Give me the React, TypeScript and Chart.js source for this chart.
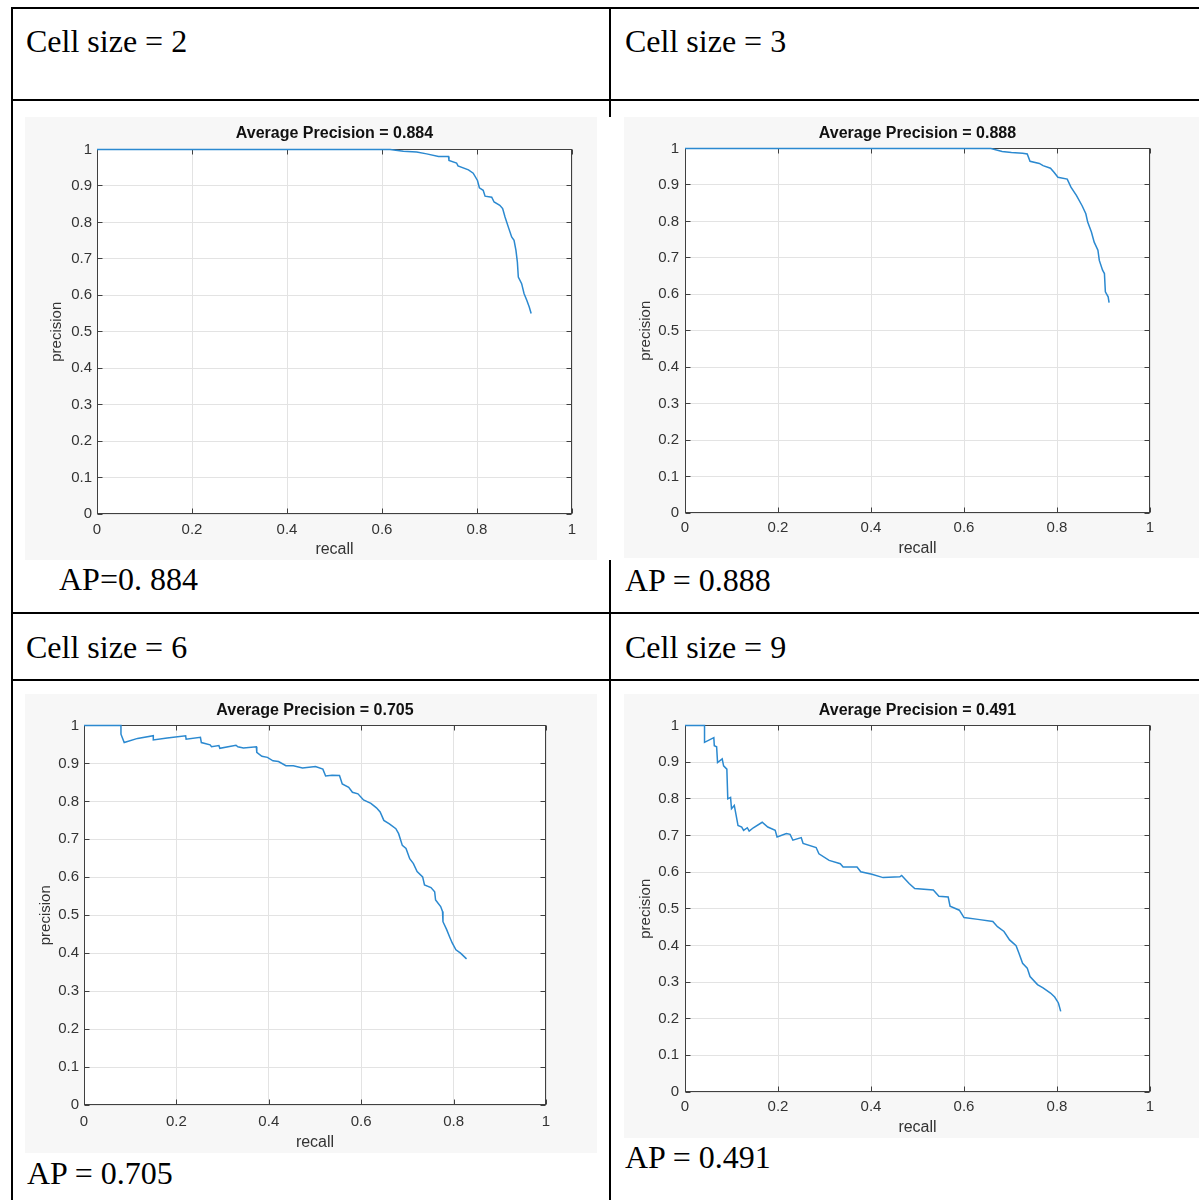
import React, { useEffect, useRef } from 'react';
import { Chart, registerables } from 'chart.js';

Chart.register(...registerables);

// ---------- data ----------
const xTickValues = [0, 0.2, 0.4, 0.6, 0.8, 1];
const yTickValues = [0, 0.1, 0.2, 0.3, 0.4, 0.5, 0.6, 0.7, 0.8, 0.9, 1];

const cellLabels = ['Cell size = 2', 'Cell size = 3', 'Cell size = 6', 'Cell size = 9'];
const apLabels = ['AP=0. 884', 'AP = 0.888', 'AP = 0.705', 'AP = 0.491'];
const chartTitles = [
  'Average Precision = 0.884',
  'Average Precision = 0.888',
  'Average Precision = 0.705',
  'Average Precision = 0.491',
];

const recall2 = [0, 0.617, 0.645, 0.673, 0.694, 0.719, 0.74, 0.741, 0.757, 0.76, 0.782, 0.792, 0.801, 0.805, 0.813, 0.817, 0.831, 0.836, 0.848, 0.854, 0.859, 0.866, 0.873, 0.878, 0.882, 0.885, 0.887, 0.894, 0.899, 0.905, 0.91, 0.914];
const precision2 = [1, 1, 0.995, 0.993, 0.988, 0.981, 0.981, 0.97, 0.963, 0.955, 0.944, 0.935, 0.915, 0.895, 0.888, 0.872, 0.869, 0.856, 0.847, 0.838, 0.815, 0.787, 0.76, 0.751, 0.723, 0.691, 0.65, 0.632, 0.605, 0.586, 0.568, 0.55];

const recall3 = [0, 0.658, 0.682, 0.702, 0.726, 0.736, 0.742, 0.762, 0.77, 0.786, 0.794, 0.802, 0.822, 0.83, 0.842, 0.854, 0.862, 0.866, 0.874, 0.88, 0.888, 0.891, 0.898, 0.902, 0.904, 0.91, 0.912];
const precision3 = [1, 1, 0.992, 0.989, 0.987, 0.985, 0.965, 0.959, 0.953, 0.946, 0.934, 0.921, 0.916, 0.894, 0.871, 0.843, 0.821, 0.798, 0.771, 0.743, 0.721, 0.693, 0.666, 0.657, 0.607, 0.593, 0.577];

const recall6 = [0, 0.08, 0.08, 0.087, 0.116, 0.15, 0.15, 0.18, 0.22, 0.221, 0.252, 0.254, 0.273, 0.276, 0.292, 0.294, 0.329, 0.333, 0.345, 0.373, 0.374, 0.385, 0.397, 0.409, 0.421, 0.437, 0.453, 0.473, 0.501, 0.517, 0.523, 0.537, 0.553, 0.559, 0.573, 0.581, 0.593, 0.605, 0.621, 0.633, 0.641, 0.649, 0.661, 0.675, 0.681, 0.689, 0.697, 0.705, 0.713, 0.721, 0.733, 0.737, 0.751, 0.759, 0.761, 0.772, 0.776, 0.777, 0.785, 0.791, 0.797, 0.805, 0.815, 0.828];
const precision6 = [1, 1, 0.977, 0.955, 0.966, 0.973, 0.962, 0.967, 0.973, 0.964, 0.969, 0.955, 0.949, 0.944, 0.947, 0.94, 0.948, 0.944, 0.941, 0.944, 0.929, 0.919, 0.916, 0.907, 0.905, 0.894, 0.894, 0.888, 0.892, 0.885, 0.867, 0.869, 0.868, 0.846, 0.837, 0.824, 0.82, 0.804, 0.795, 0.783, 0.772, 0.75, 0.741, 0.728, 0.715, 0.684, 0.676, 0.649, 0.636, 0.615, 0.601, 0.58, 0.573, 0.562, 0.54, 0.523, 0.51, 0.483, 0.462, 0.444, 0.427, 0.409, 0.4, 0.385];

const recall9 = [0, 0.042, 0.042, 0.062, 0.063, 0.068, 0.07, 0.08, 0.083, 0.09, 0.092, 0.098, 0.1, 0.106, 0.11, 0.114, 0.122, 0.126, 0.134, 0.138, 0.147, 0.166, 0.178, 0.194, 0.198, 0.218, 0.226, 0.232, 0.25, 0.254, 0.282, 0.288, 0.31, 0.334, 0.34, 0.37, 0.378, 0.402, 0.426, 0.462, 0.466, 0.482, 0.494, 0.534, 0.546, 0.566, 0.57, 0.59, 0.6, 0.63, 0.662, 0.672, 0.686, 0.698, 0.712, 0.718, 0.726, 0.736, 0.742, 0.758, 0.77, 0.786, 0.795, 0.803, 0.808];
const precision9 = [1, 1, 0.954, 0.967, 0.945, 0.942, 0.899, 0.909, 0.89, 0.881, 0.8, 0.804, 0.773, 0.782, 0.755, 0.727, 0.723, 0.714, 0.721, 0.712, 0.721, 0.736, 0.723, 0.714, 0.696, 0.705, 0.703, 0.687, 0.694, 0.678, 0.667, 0.65, 0.632, 0.623, 0.614, 0.614, 0.601, 0.594, 0.585, 0.587, 0.591, 0.569, 0.555, 0.551, 0.534, 0.532, 0.507, 0.496, 0.476, 0.471, 0.465, 0.451, 0.438, 0.415, 0.399, 0.379, 0.351, 0.338, 0.315, 0.293, 0.284, 0.27, 0.259, 0.243, 0.22];

// ---------- layout ----------
type Geo = {
  left: number; top: number; width: number; height: number;
  plotLeft: number; plotRight: number; plotTop: number; plotBottom: number;
  titleY: number; xTitleY: number; yTitleX: number; xTickY: number; yTickRight: number;
};

const geos: Geo[] = [
  { left: 25, top: 117, width: 572, height: 443, plotLeft: 97, plotRight: 572, plotTop: 149.5, plotBottom: 514, titleY: 134, xTitleY: 549.5, yTitleX: 57, xTickY: 529.5, yTickRight: 92 },
  { left: 624, top: 117, width: 575, height: 441, plotLeft: 685, plotRight: 1150, plotTop: 148.5, plotBottom: 513, titleY: 133.5, xTitleY: 549, yTitleX: 646, xTickY: 528, yTickRight: 679 },
  { left: 25, top: 694, width: 572, height: 459, plotLeft: 84, plotRight: 546, plotTop: 725.5, plotBottom: 1105, titleY: 710.5, xTitleY: 1142.5, yTitleX: 46, xTickY: 1121.5, yTickRight: 79 },
  { left: 624, top: 694, width: 575, height: 444, plotLeft: 685, plotRight: 1150, plotTop: 725.5, plotBottom: 1092, titleY: 710.5, xTitleY: 1128, yTitleX: 646, xTickY: 1107, yTickRight: 679 },
];

const SANS = "'Liberation Sans', Arial, Helvetica, sans-serif";
const SERIF = "'Liberation Serif', 'Times New Roman', serif";

const fmt = (v: number) => String(Number(Number(v).toFixed(1)));

const matlabAxes = {
  id: 'matlabAxes',
  beforeDraw(chart: any) {
    const { ctx, width, height, chartArea } = chart;
    ctx.save();
    ctx.fillStyle = '#f7f7f7';
    ctx.fillRect(0, 0, width, height);
    ctx.fillStyle = '#ffffff';
    ctx.fillRect(chartArea.left, chartArea.top, chartArea.right - chartArea.left, chartArea.bottom - chartArea.top);
    ctx.restore();
  },
  beforeDatasetsDraw(chart: any) {
    const { ctx, chartArea, scales } = chart;
    const xs = scales.x;
    const ys = scales.y;
    const L = Math.round(chartArea.left) + 0.5;
    const R = Math.round(chartArea.right) - 0.5;
    const T = Math.floor(chartArea.top) + 0.5;
    const B = Math.round(chartArea.bottom) - 0.5;
    ctx.save();
    ctx.strokeStyle = '#404040';
    ctx.lineWidth = 1;
    ctx.strokeRect(L, T, R - L, B - T);
    ctx.beginPath();
    xTickValues.forEach((v) => {
      const px = Math.round(xs.getPixelForValue(v)) + 0.5;
      ctx.moveTo(px, B); ctx.lineTo(px, B - 5);
      ctx.moveTo(px, T); ctx.lineTo(px, T + 5);
    });
    yTickValues.forEach((v) => {
      const py = Math.floor(ys.getPixelForValue(v)) + 0.5;
      ctx.moveTo(L, py); ctx.lineTo(L + 5, py);
      ctx.moveTo(R, py); ctx.lineTo(R - 5, py);
    });
    ctx.stroke();
    ctx.restore();
  },
};

function PRChart({ geo, recall, precision, title }: { geo: Geo; recall: number[]; precision: number[]; title: string }) {
  const ref = useRef<HTMLCanvasElement>(null);
  useEffect(() => {
    const canvas = ref.current;
    if (!canvas) return;
    const g = geo;
    const pl = g.plotLeft - g.left;
    const pr = g.plotRight - g.left;
    const pt = g.plotTop - g.top;
    const pb = g.plotBottom - g.top;
    const titleLH = 16 * 1.2;
    const titlePadTop = (g.titleY - g.top) - titleLH / 2;
    const titlePadBottom = pt - titleLH - titlePadTop;
    const tickLH = 15 * 1.2;
    const xTickPad = (g.xTickY - g.plotBottom) - tickLH / 2;
    const yTickPad = g.plotLeft - g.yTickRight;
    const xTitleLH = 16 * 1.2;
    const xTitlePadBottom = Math.max(0, (g.top + g.height - g.xTitleY) - xTitleLH / 2);
    const yTitleLH = 15 * 1.2;
    const yTitlePadTop = Math.max(0, (g.yTitleX - g.left) - yTitleLH / 2);

    const chart = new Chart(canvas, {
      type: 'scatter',
      data: {
        datasets: [
          {
            data: recall.map((r, i) => ({ x: r, y: precision[i] })),
            showLine: true,
            borderColor: '#2b89d0',
            backgroundColor: '#2b89d0',
            borderWidth: 1.5,
            pointRadius: 0,
            pointHoverRadius: 0,
            tension: 0,
            fill: false,
            clip: false,
          } as any,
        ],
      },
      options: {
        responsive: false,
        animation: false,
        devicePixelRatio: 1,
        events: [],
        layout: { padding: { left: 0, top: 0, bottom: 0, right: g.width - pr } },
        plugins: {
          legend: { display: false },
          tooltip: { enabled: false },
          title: {
            display: true,
            text: title,
            fullSize: false,
            color: '#111111',
            font: { size: 16, weight: 'bold', family: SANS },
            padding: { top: titlePadTop, bottom: titlePadBottom },
          },
        },
        scales: {
          x: {
            type: 'linear',
            min: 0,
            max: 1,
            afterBuildTicks: (s: any) => { s.ticks = xTickValues.map((v) => ({ value: v })); },
            afterFit: (s: any) => { s.height = g.height - pb; },
            grid: { color: '#e3e3e3', lineWidth: 1, drawTicks: false },
            border: { display: false },
            ticks: {
              padding: xTickPad,
              color: '#333333',
              font: { size: 15, family: SANS },
              maxRotation: 0,
              autoSkip: false,
              callback: (v: any) => fmt(v),
            },
            title: {
              display: true,
              text: 'recall',
              color: '#333333',
              font: { size: 16, family: SANS },
              padding: { top: 0, bottom: xTitlePadBottom },
            },
          },
          y: {
            type: 'linear',
            min: 0,
            max: 1,
            afterBuildTicks: (s: any) => { s.ticks = yTickValues.map((v) => ({ value: v })); },
            afterFit: (s: any) => { s.width = pl; },
            grid: { color: '#e3e3e3', lineWidth: 1, drawTicks: false },
            border: { display: false },
            ticks: {
              padding: yTickPad,
              color: '#333333',
              font: { size: 15, family: SANS },
              autoSkip: false,
              callback: (v: any) => fmt(v),
            },
            title: {
              display: true,
              text: 'precision',
              color: '#333333',
              font: { size: 15, family: SANS },
              padding: { top: yTitlePadTop, bottom: 0 },
            },
          },
        },
      } as any,
      plugins: [matlabAxes],
    });
    return () => chart.destroy();
  }, [geo, recall, precision, title]);
  return (
    <canvas
      ref={ref}
      width={geo.width}
      height={geo.height}
      style={{ position: 'absolute', left: geo.left, top: geo.top, width: geo.width, height: geo.height }}
    />
  );
}

function HLine({ y, x1, x2 }: { y: number; x1: number; x2: number }) {
  return <div style={{ position: 'absolute', left: x1, top: y, width: x2 - x1, height: 2, background: '#000' }} />;
}
function VLine({ x, y1, y2 }: { x: number; y1: number; y2: number }) {
  return <div style={{ position: 'absolute', left: x, top: y1, width: 2, height: y2 - y1, background: '#000' }} />;
}
function Txt({ text, x, baseline, size }: { text: string; x: number; baseline: number; size: number }) {
  return (
    <div
      style={{
        position: 'absolute',
        left: x,
        top: baseline - 0.8375 * size,
        fontFamily: SERIF,
        fontSize: size,
        lineHeight: 1,
        whiteSpace: 'pre',
        color: '#000',
      }}
    >
      {text}
    </div>
  );
}

export default function App() {
  const series = [
    { recall: recall2, precision: precision2 },
    { recall: recall3, precision: precision3 },
    { recall: recall6, precision: precision6 },
    { recall: recall9, precision: precision9 },
  ];
  return (
    <div style={{ position: 'absolute', left: 0, top: 0, width: 1199, height: 1200, overflow: 'hidden', background: '#fff' }}>
      <HLine y={7} x1={11} x2={1199} />
      <HLine y={99} x1={11} x2={1199} />
      <HLine y={612} x1={11} x2={1199} />
      <HLine y={679} x1={11} x2={1199} />
      <VLine x={11} y1={7} y2={1200} />
      <VLine x={609} y1={7} y2={1200} />
      <div style={{ position: 'absolute', left: 597, top: 117, width: 16, height: 443, background: '#fff' }} />

      <Txt text={cellLabels[0]} x={26} baseline={52} size={32} />
      <Txt text={cellLabels[1]} x={625} baseline={52} size={32} />
      <Txt text={apLabels[0]} x={59} baseline={590} size={32} />
      <Txt text={apLabels[1]} x={625} baseline={591} size={32} />
      <Txt text={cellLabels[2]} x={26} baseline={658} size={32} />
      <Txt text={cellLabels[3]} x={625} baseline={658} size={32} />
      <Txt text={apLabels[2]} x={27} baseline={1184} size={32} />
      <Txt text={apLabels[3]} x={625} baseline={1168} size={32} />

      {geos.map((g, i) => (
        <PRChart key={i} geo={g} recall={series[i].recall} precision={series[i].precision} title={chartTitles[i]} />
      ))}
    </div>
  );
}
